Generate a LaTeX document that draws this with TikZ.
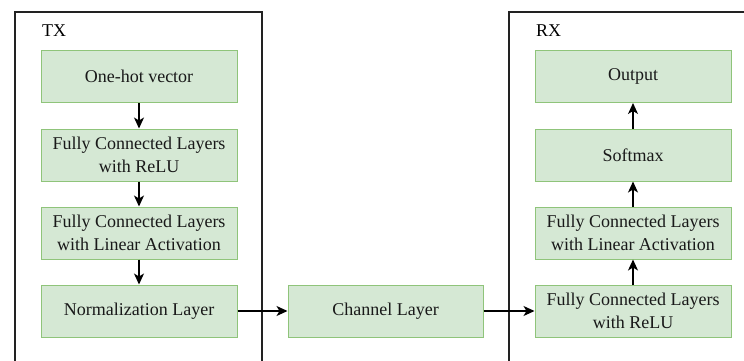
\documentclass[tikz,border=0pt]{standalone}
\usepackage{fontspec}
\setmainfont{Liberation Serif}
\usetikzlibrary{arrows.meta}
\definecolor{boxfill}{HTML}{D5E8D4}
\definecolor{boxline}{HTML}{8FC47A}
\definecolor{frameline}{HTML}{222222}
\begin{document}
\begin{tikzpicture}[x=1pt,y=-1pt,
  layerbox/.style={draw=boxline,fill=boxfill,line width=1pt,minimum width=196pt,minimum height=52pt,
    align=center,inner sep=0pt,text=black!90,font=\fontsize{18}{22.5}\selectfont},
  framelabel/.style={anchor=west,inner sep=0pt,font=\fontsize{18}{22}\selectfont},
  frame/.style={draw=frameline,line width=1.3pt},
  flow/.style={draw=black,line width=1.3pt,-{Stealth[length=11pt,width=10pt,inset=3pt]}}]
\useasboundingbox (0,0) rectangle (744,361);
% frames
\draw[frame] (15,361) -- (15,12) -- (262,12) -- (262,361);
\draw[frame] (509,361) -- (509,12) -- (744,12);
\node[framelabel] (txl) at (42,31) {TX};
\node[framelabel] (rxl) at (536,31) {RX};
% TX
\node[layerbox] (t1) at (139,76.5) {One-hot vector};
\node[layerbox] (t2) at (139,155) {Fully Connected Layers\\with ReLU};
\node[layerbox] (t3) at (139,233) {Fully Connected Layers\\with Linear Activation};
\node[layerbox] (t4) at (139,311) {Normalization Layer};
% channel
\node[layerbox,minimum width=195pt] (ch) at (385.5,311) {Channel Layer};
% RX
\node[layerbox] (r1) at (633,76.5) {Output};
\node[layerbox] (r2) at (633,155) {Softmax};
\node[layerbox] (r3) at (633,233) {Fully Connected Layers\\with Linear Activation};
\node[layerbox] (r4) at (633,311) {Fully Connected Layers\\with ReLU};
% arrows
\draw[flow] (t1) -- (t2);
\draw[flow] (t2) -- (t3);
\draw[flow] (t3) -- (t4);
\draw[flow] (t4) -- (ch);
\draw[flow] (ch) -- (r4);
\draw[flow] (r4) -- (r3);
\draw[flow] (r3) -- (r2);
\draw[flow] (r2) -- (r1);
\end{tikzpicture}
\end{document}
